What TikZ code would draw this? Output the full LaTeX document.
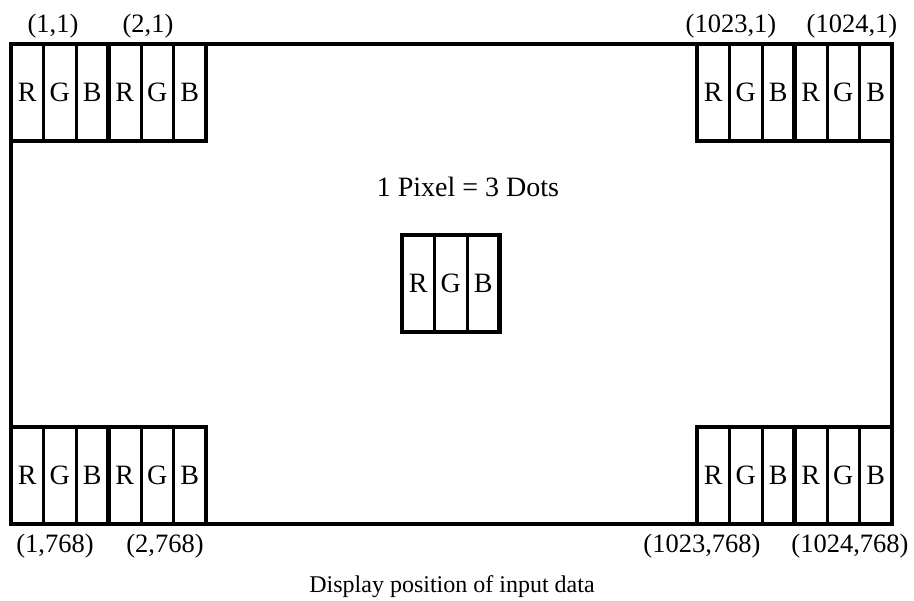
\documentclass[tikz,border=0pt]{standalone}
\usepackage{fontspec}
\setmainfont{Liberation Serif}
\usetikzlibrary{positioning}
\tikzstyle{panel} = [rectangle, draw=black, line width=4pt, minimum width=881pt, minimum height=480pt, inner sep=0pt]
\tikzstyle{dot} = [rectangle, draw=black, fill=white, line width=3pt, minimum width=32.5pt, minimum height=97pt, inner sep=0pt, outer sep=0pt, text centered, font=\fontsize{28}{30}\selectfont]
\tikzstyle{pixel} = [draw=black, line width=4.5pt]
\tikzstyle{coord} = [anchor=base, inner sep=0pt, font=\fontsize{26.5}{30}\selectfont]

\begin{document}
\begin{tikzpicture}[x=1pt, y=-1pt]
            \useasboundingbox (0,0) rectangle (914,601);

            \node (PANEL) [panel] at (451.5,284) {};

            % top left
            \node (TL1R) [dot, anchor=north west] at (11,44) {R};
            \node (TL1G) [dot, right=0pt of TL1R] {G};
            \node (TL1B) [dot, right=0pt of TL1G] {B};
            \node (TL2R) [dot, right=0pt of TL1B] {R};
            \node (TL2G) [dot, right=0pt of TL2R] {G};
            \node (TL2B) [dot, right=0pt of TL2G] {B};
            % top right
            \node (TR1R) [dot, anchor=north west] at (697,44) {R};
            \node (TR1G) [dot, right=0pt of TR1R] {G};
            \node (TR1B) [dot, right=0pt of TR1G] {B};
            \node (TR2R) [dot, right=0pt of TR1B] {R};
            \node (TR2G) [dot, right=0pt of TR2R] {G};
            \node (TR2B) [dot, right=0pt of TR2G] {B};
            % bottom left
            \node (BL1R) [dot, anchor=south west] at (11,524) {R};
            \node (BL1G) [dot, right=0pt of BL1R] {G};
            \node (BL1B) [dot, right=0pt of BL1G] {B};
            \node (BL2R) [dot, right=0pt of BL1B] {R};
            \node (BL2G) [dot, right=0pt of BL2R] {G};
            \node (BL2B) [dot, right=0pt of BL2G] {B};
            % bottom right
            \node (BR1R) [dot, anchor=south west] at (697,524) {R};
            \node (BR1G) [dot, right=0pt of BR1R] {G};
            \node (BR1B) [dot, right=0pt of BR1G] {B};
            \node (BR2R) [dot, right=0pt of BR1B] {R};
            \node (BR2G) [dot, right=0pt of BR2R] {G};
            \node (BR2B) [dot, right=0pt of BR2G] {B};
            % one pixel
            \node (CR) [dot, anchor=north west] at (402,235) {R};
            \node (CG) [dot, right=0pt of CR] {G};
            \node (CB) [dot, right=0pt of CG] {B};

            \foreach \a/\b in {TL1R/TL1B, TL2R/TL2B, TR1R/TR1B, TR2R/TR2B, BL1R/BL1B, BL2R/BL2B, BR1R/BR1B, BR2R/BR2B, CR/CB}
                \draw [pixel] (\a.north west) rectangle (\b.south east);

            \node (TITLE) [coord, font=\fontsize{28}{30}\selectfont] at (468,197) {1 Pixel = 3 Dots};

            \node (P11) [coord] at (53,33) {(1,1)};
            \node (P21) [coord] at (148,33) {(2,1)};
            \node (P10231) [coord] at (731,33) {(1023,1)};
            \node (P10241) [coord] at (852,33) {(1024,1)};
            \node (P1768) [coord] at (55,553) {(1,768)};
            \node (P2768) [coord] at (165,553) {(2,768)};
            \node (P1023768) [coord] at (702,553) {(1023,768)};
            \node (P1024768) [coord] at (850,553) {(1024,768)};

            \node (CAPTION) [coord, font=\fontsize{24}{28}\selectfont] at (452,593) {Display position of input data};

\end{tikzpicture}
\end{document}
